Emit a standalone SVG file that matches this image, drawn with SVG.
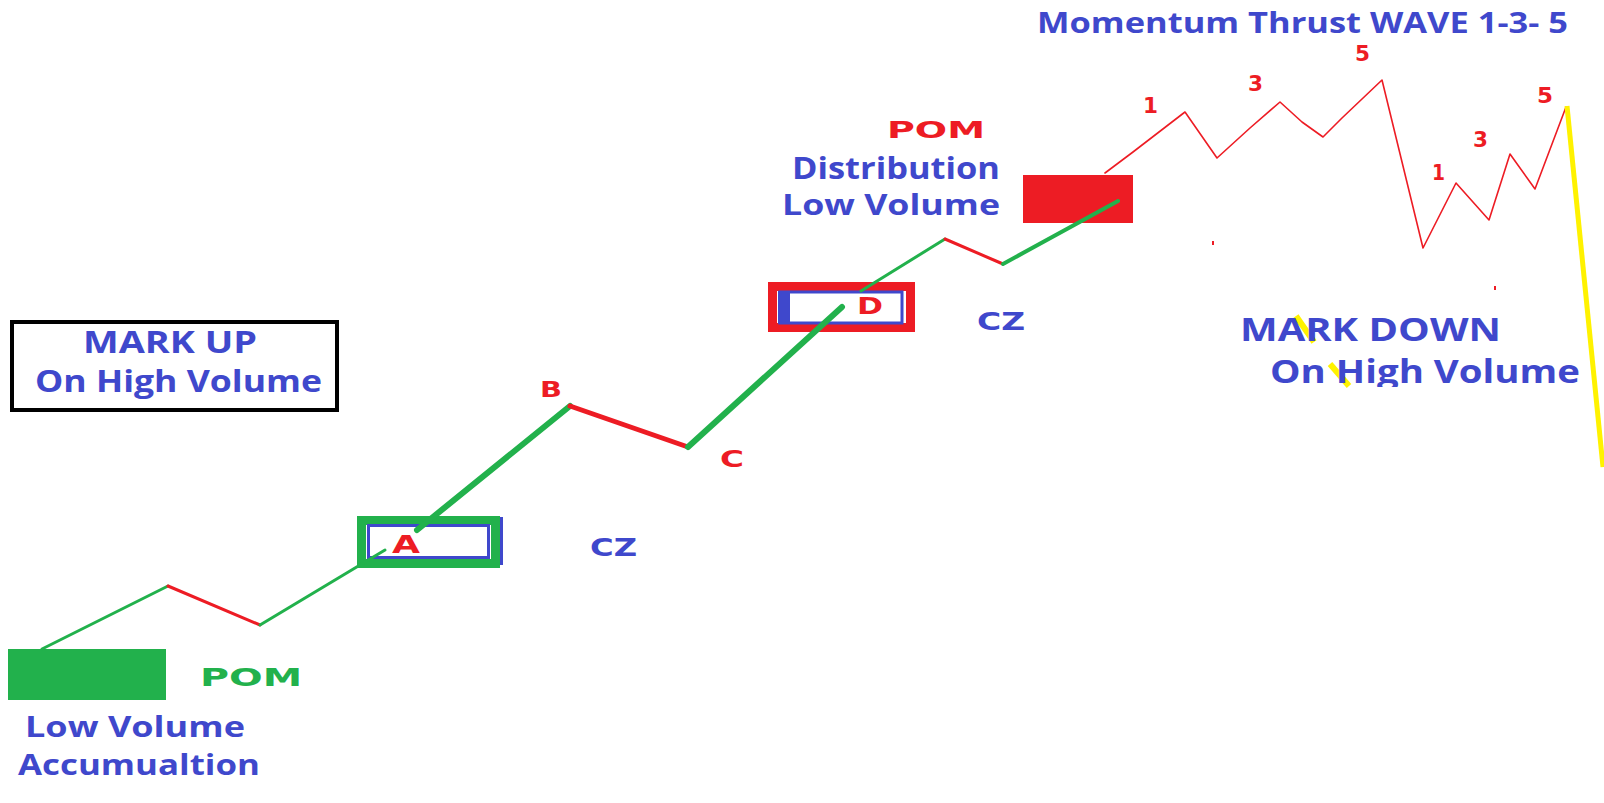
<svg xmlns="http://www.w3.org/2000/svg" width="1604" height="803" viewBox="0 0 1604 803">
<style>
.bl{fill:#3F48CC;font-family:"Open Sans","Liberation Sans",sans-serif;font-weight:bold}
.rd{fill:#ED1C24;font-family:"DejaVu Sans","Liberation Sans",sans-serif;font-weight:bold}
.gr{fill:#22B14C;font-family:"DejaVu Sans","Liberation Sans",sans-serif;font-weight:bold}
.cz{fill:#3F48CC;font-family:"DejaVu Sans","Liberation Sans",sans-serif;font-weight:bold}
.g{stroke:#22B14C;fill:none;stroke-linecap:round;stroke-linejoin:round}
.r{stroke:#ED1C24;fill:none;stroke-linecap:round;stroke-linejoin:round}
</style>
<defs>
<clipPath id="clipMD"><rect x="1200" y="340" width="404" height="47"/></clipPath>
</defs>
<rect width="1604" height="803" fill="#fff"/>

<g id="accumulation">
<rect x="8" y="649" width="158" height="51" fill="#22B14C"/>
<text class="gr" x="200" y="686" font-size="25" textLength="102" lengthAdjust="spacingAndGlyphs">POM</text>
<text class="bl" x="25" y="737" font-size="28" textLength="220" lengthAdjust="spacingAndGlyphs">Low Volume</text>
<text class="bl" x="18" y="775" font-size="28" textLength="242" lengthAdjust="spacingAndGlyphs">Accumualtion</text>
</g>

<g id="markup-box">
<rect x="12" y="322" width="325" height="88" fill="#fff" stroke="#000" stroke-width="4"/>
<text class="bl" x="83" y="353" font-size="30" textLength="174" lengthAdjust="spacingAndGlyphs">MARK UP</text>
<text class="bl" x="35" y="392" font-size="31" textLength="287" lengthAdjust="spacingAndGlyphs">On High Volume</text>
</g>

<g id="box-A">
<rect x="361.5" y="520.5" width="134" height="43" fill="#fff" stroke="#22B14C" stroke-width="9"/>
<rect x="368.5" y="525.5" width="120" height="32" fill="none" stroke="#3F48CC" stroke-width="3"/>
<line x1="501.5" y1="517" x2="501.5" y2="565" stroke="#3F48CC" stroke-width="3"/>
<text class="rd" x="392" y="553" font-size="25" textLength="28" lengthAdjust="spacingAndGlyphs">A</text>
</g>

<g id="label-B"><text class="rd" x="540" y="397" font-size="22" textLength="22" lengthAdjust="spacingAndGlyphs">B</text></g>
<g id="label-C"><text class="rd" x="720" y="467" font-size="23" textLength="24" lengthAdjust="spacingAndGlyphs">C</text></g>
<g id="cz-left"><text class="cz" x="590" y="556" font-size="24" textLength="47" lengthAdjust="spacingAndGlyphs">CZ</text></g>

<g id="box-D">
<rect x="772.5" y="286.5" width="138" height="41" fill="#fff" stroke="#ED1C24" stroke-width="9"/>
<rect x="780" y="292" width="122" height="31" fill="none" stroke="#3F48CC" stroke-width="3"/>
<rect x="778" y="291" width="12" height="33" fill="#3F48CC"/>
<text class="rd" x="857" y="314" font-size="23" textLength="26" lengthAdjust="spacingAndGlyphs">D</text>
</g>

<g id="cz-right"><text class="cz" x="977" y="330" font-size="24" textLength="48" lengthAdjust="spacingAndGlyphs">CZ</text></g>

<g id="distribution">
<text class="rd" x="887" y="138" font-size="23" textLength="98" lengthAdjust="spacingAndGlyphs">POM</text>
<text class="bl" x="792" y="179" font-size="31" textLength="208" lengthAdjust="spacingAndGlyphs">Distribution</text>
<text class="bl" x="782" y="215" font-size="29" textLength="218" lengthAdjust="spacingAndGlyphs">Low Volume</text>
<rect x="1023" y="175" width="110" height="48" fill="#ED1C24"/>
</g>

<g id="connectors">
<polyline class="g" stroke-width="3" points="42,649 168,586"/>
<polyline class="r" stroke-width="3" points="168,586 260,625"/>
<polyline class="g" stroke-width="3" points="260,625 385,550"/>
<polyline class="g" stroke-width="6" points="417,530 570,406"/>
<polyline class="r" stroke-width="5" points="570,406 688,447"/>
<polyline class="g" stroke-width="6" points="688,447 842,307"/>
<polyline class="g" stroke-width="3" points="861,291 945,239"/>
<polyline class="r" stroke-width="3" points="945,239 1003,264"/>
<polyline class="g" stroke-width="4" points="1003,264 1118,201"/>
<polyline class="r" stroke-width="1.6" points="1105,173 1133,152 1185,112 1217,158 1250,128 1280,102 1302,122 1323,137 1342,118 1382,80 1423,248 1456,183 1489,220 1510,154 1535,189 1566,107"/>
<line x1="1567" y1="106" x2="1603" y2="467" stroke="#FFF200" stroke-width="5"/>
<rect x="1212" y="241" width="2" height="4" fill="#ED1C24"/>
<rect x="1494" y="286" width="2" height="4" fill="#ED1C24"/>
</g>

<g id="momentum">
<text class="bl" x="1037" y="33" font-size="28" textLength="531" lengthAdjust="spacingAndGlyphs">Momentum Thrust WAVE 1-3- 5</text>
<text class="rd" x="1143" y="113" font-size="22" textLength="15" lengthAdjust="spacingAndGlyphs">1</text>
<text class="rd" x="1248" y="91" font-size="22" textLength="15" lengthAdjust="spacingAndGlyphs">3</text>
<text class="rd" x="1355" y="61" font-size="22" textLength="15" lengthAdjust="spacingAndGlyphs">5</text>
<text class="rd" x="1432" y="180" font-size="21" textLength="13" lengthAdjust="spacingAndGlyphs">1</text>
<text class="rd" x="1473" y="147" font-size="21" textLength="15" lengthAdjust="spacingAndGlyphs">3</text>
<text class="rd" x="1537" y="103" font-size="22" textLength="16" lengthAdjust="spacingAndGlyphs">5</text>
</g>

<g id="markdown">
<line x1="1296" y1="316" x2="1314" y2="342" stroke="#FFF200" stroke-width="6"/>
<line x1="1330" y1="364" x2="1349" y2="386" stroke="#FFF200" stroke-width="6"/>
<text class="bl" x="1240" y="341" font-size="32" textLength="261" lengthAdjust="spacingAndGlyphs">MARK DOWN</text>
<text class="bl" x="1270" y="383" font-size="32" textLength="310" lengthAdjust="spacingAndGlyphs" clip-path="url(#clipMD)">On High Volume</text>
</g>
</svg>
